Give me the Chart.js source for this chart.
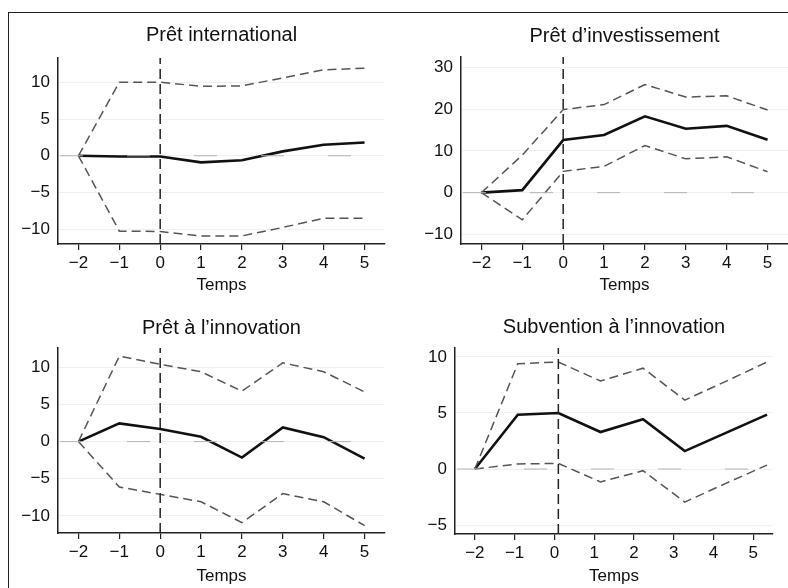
<!DOCTYPE html>
<html>
<head>
<meta charset="utf-8">
<script src="https://cdn.jsdelivr.net/npm/chart.js@4.4.0/dist/chart.umd.min.js"></script>
<style>
  body { margin: 0; width: 788px; height: 588px; background: #fff; overflow: hidden; position: relative; }
  #frame { position: absolute; left: 8px; top: 12px; width: 800px; height: 600px;
           border-left: 1.5px solid #222; border-top: 1.5px solid #222; }
  .panel { position: absolute; }
</style>
</head>
<body>
<div id="frame"></div>
<div class="panel" style="left:0;top:0"><canvas id="c1" width="394" height="300"></canvas></div>
<div class="panel" style="left:394px;top:0"><canvas id="c2" width="394" height="300"></canvas></div>
<div class="panel" style="left:0;top:300px"><canvas id="c3" width="394" height="288"></canvas></div>
<div class="panel" style="left:394px;top:300px"><canvas id="c4" width="394" height="288"></canvas></div>
<script>
// periods relative to the event
const periods = [-2, -1, 0, 1, 2, 3, 4, 5];
const xTicks = [-2, -1, 0, 1, 2, 3, 4, 5];

// Prêt international
const intlEst = [0, -0.1, -0.1, -0.9, -0.6, 0.6, 1.5, 1.8];
const intlHi  = [0, 10, 10, 9.45, 9.5, 10.6, 11.7, 11.9];
const intlLo  = [0, -10.25, -10.3, -10.9, -10.9, -9.75, -8.5, -8.5];

// Prêt d'investissement
const invEst = [0, 0.6, 12.6, 13.8, 18.3, 15.3, 16.0, 12.7];
const invHi  = [0, 9, 19.9, 21.1, 25.9, 22.9, 23.2, 19.8];
const invLo  = [0, -6.5, 5.1, 6.3, 11.3, 8.1, 8.6, 5.0];

// Prêt à l'innovation
const loanEst = [0, 2.45, 1.7, 0.65, -2.15, 1.9, 0.6, -2.3];
const loanHi  = [0, 11.5, 10.4, 9.4, 6.8, 10.6, 9.4, 6.7];
const loanLo  = [0, -6.1, -7.1, -8.1, -10.9, -7.0, -8.1, -11.3];

// Subvention à l'innovation (points drawn slightly shifted on the time axis)
const grantX   = [-2, -0.92, 0.1, 1.16, 2.23, 3.28, 4.3, 5.35];
const grantEst = [0, 4.85, 5.0, 3.3, 4.45, 1.6, 3.2, 4.85];
const grantHi  = [0, 9.4, 9.55, 7.85, 9.0, 6.15, 7.8, 9.55];
const grantLo  = [0, 0.45, 0.5, -1.15, -0.15, -2.95, -1.3, 0.35];

const FONT = "'Liberation Sans Narrow', 'Liberation Sans', Arial, sans-serif";

function pts(xs, ys) { return xs.map((x, i) => ({ x: x, y: ys[i] })); }

function makePanel(id, p) {
  const datasets = [
    { data: [{ x: -2.45, y: 0 }, { x: 5.5, y: 0 }], borderColor: '#b4b4b4', borderWidth: 1, borderDash: [23, 44] },
    { data: [{ x: p.eventX, y: p.yMin }, { x: p.eventX, y: p.yMax }], borderColor: '#222', borderWidth: 1.5, borderDash: [10, 5] },
    { data: pts(p.xs, p.hi), borderColor: '#555', borderWidth: 1.5, borderDash: [9, 5] },
    { data: pts(p.xs, p.lo), borderColor: '#555', borderWidth: 1.5, borderDash: [9, 5] },
    { data: pts(p.xs, p.est), borderColor: '#111', borderWidth: 2.6 }
  ];
  new Chart(document.getElementById(id), {
    type: 'line',
    data: { datasets: datasets },
    options: {
      responsive: false,
      animation: false,
      layout: { padding: { left: 0, right: p.padRight, top: 0, bottom: 0 } },
      elements: { point: { radius: 0 }, line: { tension: 0, fill: false } },
      plugins: {
        legend: { display: false },
        tooltip: { enabled: false },
        title: {
          display: true, text: p.title, fullSize: false, color: '#111',
          font: { family: FONT, size: 20, weight: 'normal', lineHeight: 1.2 },
          padding: { top: p.titleTop, bottom: p.titleBottom }
        }
      },
      scales: {
        x: {
          type: 'linear', min: -2.5, max: 5.5,
          afterBuildTicks: s => { s.ticks = xTicks.map(v => ({ value: v })); },
          afterFit: s => { s.height = p.xAxisH; },
          grid: { drawOnChartArea: false, drawTicks: true, tickLength: 6, color: '#222', lineWidth: 1.2 },
          border: { display: true, color: '#222', width: 1.5 },
          ticks: { color: '#111', padding: 3, font: { family: FONT, size: 17 }, callback: v => String(v).replace('-', '\u2212') },
          title: { display: true, text: 'Temps', color: '#111', font: { family: FONT, size: 17 }, padding: { top: 0, bottom: p.tempsPad } }
        },
        y: {
          type: 'linear', min: p.yMin, max: p.yMax,
          afterBuildTicks: s => { s.ticks = p.yTicks.map(v => ({ value: v })); },
          afterFit: s => { s.width = p.yAxisW; },
          grid: { drawTicks: false, color: '#f0f0f0', lineWidth: 1 },
          border: { display: true, color: '#222', width: 1.5 },
          ticks: { color: '#111', padding: 8, font: { family: FONT, size: 17 }, callback: v => String(v).replace('-', '\u2212') }
        }
      }
    }
  });
}

makePanel('c1', {
  title: 'Prêt international', xs: periods, est: intlEst, hi: intlHi, lo: intlLo,
  eventX: 0, yMin: -12, yMax: 13.3, yTicks: [-10, -5, 0, 5, 10],
  yAxisW: 58, padRight: 9, xAxisH: 56, titleTop: 23, titleBottom: 11, tempsPad: 4
});
makePanel('c2', {
  title: 'Prêt d\u2019investissement', xs: periods, est: invEst, hi: invHi, lo: invLo,
  eventX: 0, yMin: -12.3, yMax: 32.5, yTicks: [-10, 0, 10, 20, 30],
  yAxisW: 67, padRight: 0, xAxisH: 56, titleTop: 24, titleBottom: 9, tempsPad: 4
});
makePanel('c3', {
  title: 'Prêt à l\u2019innovation', xs: periods, est: loanEst, hi: loanHi, lo: loanLo,
  eventX: 0, yMin: -12.3, yMax: 12.6, yTicks: [-10, -5, 0, 5, 10],
  yAxisW: 58, padRight: 9, xAxisH: 55, titleTop: 16, titleBottom: 8, tempsPad: 1
});
makePanel('c4', {
  title: 'Subvention à l\u2019innovation', xs: grantX, est: grantEst, hi: grantHi, lo: grantLo,
  eventX: 0.1, yMin: -5.8, yMax: 10.8, yTicks: [-5, 0, 5, 10],
  yAxisW: 61, padRight: 15, xAxisH: 54, titleTop: 15, titleBottom: 9, tempsPad: 1
});
</script>
</body>
</html>
